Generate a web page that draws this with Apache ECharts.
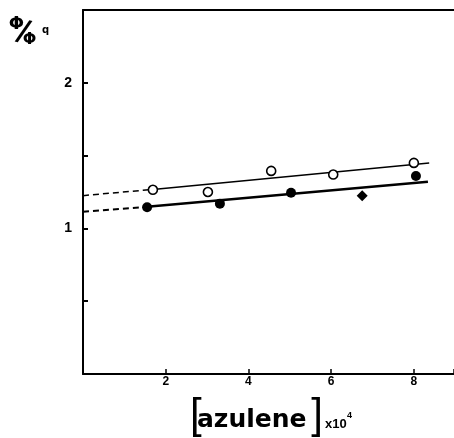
<!DOCTYPE html>
<html><head><meta charset="utf-8">
<script src="https://cdn.jsdelivr.net/npm/echarts@6/dist/echarts.min.js"></script>
<style>html,body{margin:0;padding:0;background:#fff}#c{width:454px;height:438px}</style>
</head><body><div id="c"></div>
<script>
// Data
const xTicks = [2, 4, 6, 8];
const yTickLabels = [1, 2];
const openX = [1.69, 3.02, 4.55, 6.05, 8.0];
const openY = [1.265, 1.25, 1.395, 1.37, 1.45];
const filledX = [1.55, 3.31, 5.03, 6.75, 8.05];
const filledY = [1.145, 1.17, 1.245, 1.225, 1.36];
const filledShape = ['circle', 'circle', 'circle', 'diamond', 'circle'];
const upperFitX = [0, 1.69, 8.37];
const upperFitY = [1.225, 1.268, 1.45];
const lowerFitX = [0, 1.55, 8.34];
const lowerFitY = [1.115, 1.148, 1.32];

const chart = echarts.init(document.getElementById('c'), null, {renderer: 'canvas'});
const pts = (xs, ys) => xs.map((x, i) => [x, ys[i]]);
const blk = '#000';
chart.setOption({
  animation: false,
  backgroundColor: '#fff',
  grid: {left: 83, right: 0, top: 10, bottom: 64, outerBoundsMode: 'none', containLabel: false},
  xAxis: [{
    type: 'value', min: 0, max: 8.97, interval: 2,
    axisLine: {show: true, lineStyle: {color: blk, width: 2}},
    axisTick: {show: true, inside: true, length: 5, lineStyle: {color: blk, width: 1.5}},
    splitLine: {show: false},
    axisLabel: {margin: 2, fontFamily: 'Liberation Sans', fontWeight: 'bold', fontSize: 12, color: blk,
      formatter: v => xTicks.includes(v) ? String(v) : ''}
  }, {
    type: 'value', position: 'top', min: 0, max: 8.97,
    axisLine: {show: true, lineStyle: {color: blk, width: 2}},
    axisTick: {show: false}, axisLabel: {show: false}, splitLine: {show: false}
  }],
  yAxis: {
    type: 'value', min: 0, max: 2.5, interval: 0.5,
    axisLine: {show: true, lineStyle: {color: blk, width: 2}},
    axisTick: {show: true, inside: true, length: 5, lineStyle: {color: blk, width: 2}},
    splitLine: {show: false},
    axisLabel: {margin: 11, fontFamily: 'Liberation Sans', fontWeight: 'bold', fontSize: 14, color: blk,
      formatter: v => yTickLabels.includes(v) ? String(v) : ''}
  },
  graphic: [
    // y-axis name  Φ/Φq
    {type: 'text', x: 16.5, y: 24, style: {text: 'Φ', font: 'bold 18px "DejaVu Sans"', fill: blk, align: 'center', verticalAlign: 'middle'}},
    {type: 'text', x: 23, y: 33, rotation: -0.3, style: {text: '/', font: 'bold 30px "DejaVu Sans"', fill: blk, align: 'center', verticalAlign: 'middle'}},
    {type: 'text', x: 29.5, y: 40, style: {text: 'Φ', font: 'bold 16px "DejaVu Sans"', fill: blk, align: 'center', verticalAlign: 'middle'}},
    {type: 'text', x: 45.5, y: 30, style: {text: 'q', font: 'bold 10px "DejaVu Sans"', fill: blk, align: 'center', verticalAlign: 'middle'}},
    // x-axis name  [azulene] x10^4
    {type: 'text', x: 190, y: 416, style: {text: '[', font: '42px "Liberation Sans"', fill: blk, align: 'left', verticalAlign: 'middle'}},
    {type: 'text', x: 197, y: 420, style: {text: 'azulene', font: 'bold 25px "DejaVu Sans"', fill: blk, align: 'left', verticalAlign: 'middle'}},
    {type: 'text', x: 323, y: 416, style: {text: ']', font: '42px "Liberation Sans"', fill: blk, align: 'right', verticalAlign: 'middle'}},
    {type: 'text', x: 325, y: 424, style: {text: 'x10', font: 'bold 13px "Liberation Sans"', fill: blk, align: 'left', verticalAlign: 'middle'}},
    {type: 'text', x: 347, y: 416, style: {text: '4', font: 'bold 9px "Liberation Sans"', fill: blk, align: 'left', verticalAlign: 'middle'}}
  ],
  series: [
    {type: 'line', data: pts(upperFitX.slice(0, 2), upperFitY.slice(0, 2)), symbol: 'none',
     lineStyle: {color: blk, width: 1.5, type: [6, 4]}, z: 2},
    {type: 'line', data: pts(upperFitX.slice(1), upperFitY.slice(1)), symbol: 'none',
     lineStyle: {color: blk, width: 1.5}, z: 2},
    {type: 'line', data: pts(lowerFitX.slice(0, 2), lowerFitY.slice(0, 2)), symbol: 'none',
     lineStyle: {color: blk, width: 2, type: [6, 4]}, z: 2},
    {type: 'line', data: pts(lowerFitX.slice(1), lowerFitY.slice(1)), symbol: 'none',
     lineStyle: {color: blk, width: 2.5}, z: 2},
    {type: 'scatter', data: pts(openX, openY), symbol: 'circle', symbolSize: 9,
     itemStyle: {color: '#fff', borderColor: blk, borderWidth: 1.6, opacity: 1}, z: 3},
    {type: 'scatter', data: filledX.map((x, i) => ({value: [x, filledY[i]], symbol: filledShape[i], symbolSize: filledShape[i] === 'diamond' ? 11 : 10})),
     itemStyle: {color: blk, opacity: 1}, z: 3}
  ]
});
</script></body></html>
